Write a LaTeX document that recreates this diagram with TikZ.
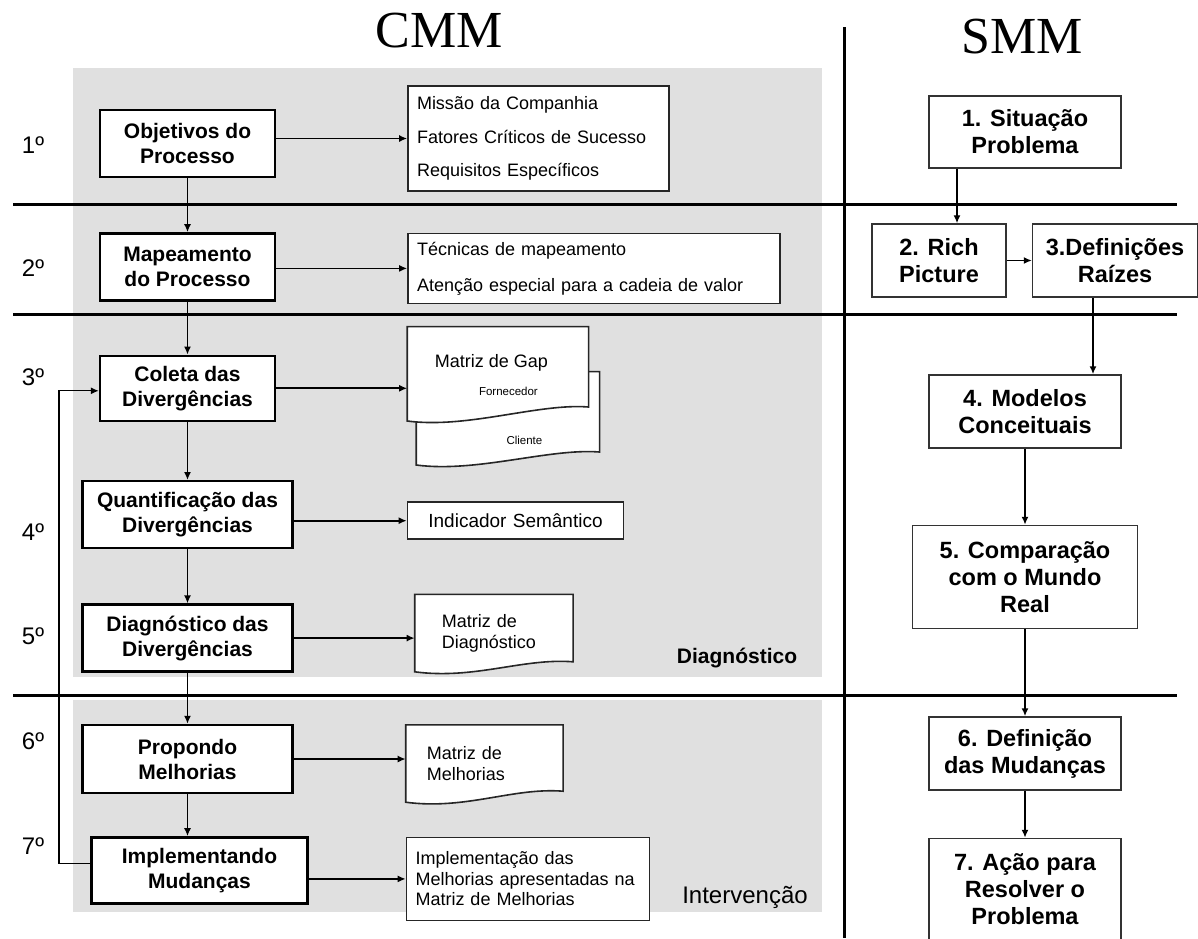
\documentclass[tikz,border=0pt]{standalone}
\usepackage{fontspec}
\setmainfont{Liberation Sans}
\newfontfamily\titlefont{Liberation Serif}
\usetikzlibrary{arrows.meta,positioning,calc,backgrounds}
\definecolor{panelgray}{RGB}{224,224,224}

\newcommand{\docoutline}[2]{%
  \filldraw[docline] (#1.north west) -- (#1.north east) -- ([yshift=#2]#1.south east)
    .. controls +(-50pt,4pt) and +(60pt,-8pt) .. (#1.south west) -- cycle;}

\begin{document}
\begin{tikzpicture}[x=1pt,y=-1pt,>={Latex[length=8pt,width=7pt]},
  cmm/.style={draw,line width=2.4pt,fill=white,font=\fontsize{21}{25}\selectfont\bfseries,align=center,minimum height=67pt,inner sep=2pt},
  smm/.style={draw=black!80,line width=1.5pt,fill=white,font=\fontsize{23.5}{27}\selectfont\bfseries,align=center,inner sep=2pt},
  note/.style={draw=black!85,line width=1.6pt,fill=white,font=\fontsize{18}{20.5}\selectfont,align=left,inner xsep=9pt,inner ysep=2pt},
  docnode/.style={font=\fontsize{18}{21.5}\selectfont,align=left,inner ysep=2pt},
  docline/.style={draw=black!85,line width=1.6pt,fill=white},
  smalltext/.style={font=\fontsize{11.5}{12}\selectfont},
  stepnum/.style={font=\fontsize{24}{24}\selectfont},
  zone/.style={font=\fontsize{21}{21}\selectfont\bfseries},
  flow/.style={->,line width=1.8pt},
  thin flow/.style={->,line width=1.3pt},
  divider/.style={line width=3pt}]
  \useasboundingbox (0,0) rectangle (1198,938);

  \node[font=\titlefont\fontsize{52}{52}\selectfont] (cmmt) at (439,31) {CMM};
  \node[font=\titlefont\fontsize{52}{52}\selectfont] (smmt) at (1022,36.5) {SMM};

  \foreach \n/\y in {1/145,2/268,3/377,4/532,5/636,6/741,7/846}
    \node[stepnum] (n\n) at (33,\y) {{\n}º};

  \node[cmm,minimum width=175pt] (obj) at (187.5,143.5) {Objetivos do\\Processo};
  \node[cmm,minimum width=175pt,below=54pt of obj] (map) {Mapeamento\\do Processo};
  \node[cmm,minimum width=175pt,minimum height=65pt,below=53pt of map] (col) {Coleta das\\Divergências};
  \node[cmm,minimum width=210pt,below=58pt of col] (quant) {Quantificação das\\Divergências};
  \node[cmm,minimum width=210pt,below=54pt of quant] (diag) {Diagnóstico das\\Divergências};
  \node[cmm,minimum width=210pt,minimum height=68pt,below=51pt of diag] (prop) {Propondo\\Melhorias};
  \node[cmm,minimum width=216pt,minimum height=66pt,below=42pt of prop,xshift=12pt] (impl) {Implementando\\Mudanças};

  \node[note,text width=243pt,minimum height=105pt,font=\fontsize{18}{33.5}\selectfont,right=131pt of obj,yshift=5pt] (mis)
    {Missão da Companhia\\Fatores Críticos de Sucesso\\Requisitos Específicos};
  \node[note,text width=354pt,minimum height=70pt,font=\fontsize{18}{36}\selectfont,right=131pt of map,yshift=-1.5pt] (tec)
    {Técnicas de mapeamento\\Atenção especial para a cadeia de valor};
  \node[docnode,minimum width=181pt,minimum height=94pt,right=131pt of col,yshift=14.5pt] (gap) {};
  \node[docnode,minimum width=183pt,minimum height=93pt,anchor=north east] (cli) at ([shift={(11pt,-45pt)}]gap.north east) {};
  \node[docnode] (gapt) at ([shift={(-6.5pt,11pt)}]gap.center) {Matriz de Gap};
  \node[smalltext] (forn) at ([shift={(10.5pt,-18pt)}]gap.center) {Fornecedor};
  \node[smalltext] (clit) at ([shift={(16.5pt,-22.5pt)}]cli.center) {Cliente};
  \node[note,align=center,text width=198pt,minimum height=37pt,font=\fontsize{19}{21}\selectfont,right=113pt of quant,yshift=-6pt] (ind)
    {Indicador Semântico};
  \node[docnode,minimum width=158pt,minimum height=77pt,text width=104pt,inner xsep=27pt,right=121pt of diag,yshift=5pt] (mdg)
    {Matriz de\\Diagnóstico};
  \node[docnode,minimum width=157pt,minimum height=77pt,text width=115pt,inner xsep=21pt,right=112pt of prop,yshift=-4.5pt] (mml)
    {Matriz de\\Melhorias};
  \node[note,text width=225pt,minimum height=83pt,font=\fontsize{18}{20.5}\selectfont,right=97pt of impl,yshift=-8.5pt] (imp)
    {Implementação das\\Melhorias apresentadas na\\Matriz de Melhorias};

  \node[zone] (zdiag) at (737,658) {Diagnóstico};
  \node[font=\fontsize{24}{24}\selectfont] (zint) at (745,897) {Intervenção};

  \node[smm,minimum width=192pt,minimum height=72pt] (s1) at (1025,132) {1. Situação\\Problema};
  \node[smm,minimum width=134pt,minimum height=73pt] (s2) at (939,260.5) {2. Rich\\Picture};
  \node[smm,minimum width=165pt,minimum height=73pt,right=25pt of s2] (s3) {3.Definições\\Raízes};
  \node[smm,minimum width=192pt,minimum height=73pt] (s4) at (1025,411.5) {4. Modelos\\Conceituais};
  \node[smm,minimum width=225pt,minimum height=103pt,below=76pt of s4] (s5) {5. Comparação\\com o Mundo\\Real};
  \node[smm,minimum width=192pt,minimum height=73pt,below=87pt of s5] (s6) {6. Definição\\das Mudanças};
  \node[smm,minimum width=192pt,minimum height=101pt,below=47pt of s6] (s7) {7. Ação para\\Resolver o\\Problema};

  \begin{scope}[on background layer]
    \fill[panelgray] (73,68) rectangle (822,677);
    \fill[panelgray] (73,700) rectangle (822,912);
    \docoutline{cli}{13pt}
    \docoutline{gap}{14pt}
    \docoutline{mdg}{10pt}
    \docoutline{mml}{11pt}
  \end{scope}

  \path[flow]
  (obj) edge (map)
  (map) edge (col)
  (col) edge (quant)
  (quant) edge (diag)
  (diag) edge (prop);
  \draw[flow] (prop.south) -- (prop.south |- impl.north);
  \draw[flow] (obj.east |- mis.west) -- (mis.west);
  \draw[flow] (map.east |- tec.west) -- (tec.west);
  \draw[flow] (col.east) -- (col.east -| gap.west);
  \draw[flow] (quant.east |- ind.west) -- (ind.west);
  \draw[flow] (diag.east) -- (diag.east -| mdg.west);
  \draw[flow] (prop.east) -- (prop.east -| mml.west);
  \draw[flow] (impl.east |- imp.west) -- (imp.west);
  \coordinate (loop) at (59,600);
  \draw[thin flow] ([yshift=7pt]impl.west) -| (loop) |- ([yshift=-2.5pt]col.west);

  \draw[thin flow] ([xshift=-68pt]s1.south) -- ([xshift=-68pt]s1.south |- s2.north);
  \draw[thin flow] (s2) -- (s3);
  \draw[flow] ([xshift=-22pt]s3.south) -- ([xshift=-22pt]s3.south |- s4.north);
  \path[flow]
  (s4) edge (s5)
  (s5) edge (s6)
  (s6) edge (s7);

  \draw[divider] (13,204) -- (1177,204);
  \draw[divider] (13,314) -- (1177,314);
  \draw[divider] (13,695) -- (1177,695);
  \draw[divider] (844,27) -- (844,938);
\end{tikzpicture}
\end{document}
